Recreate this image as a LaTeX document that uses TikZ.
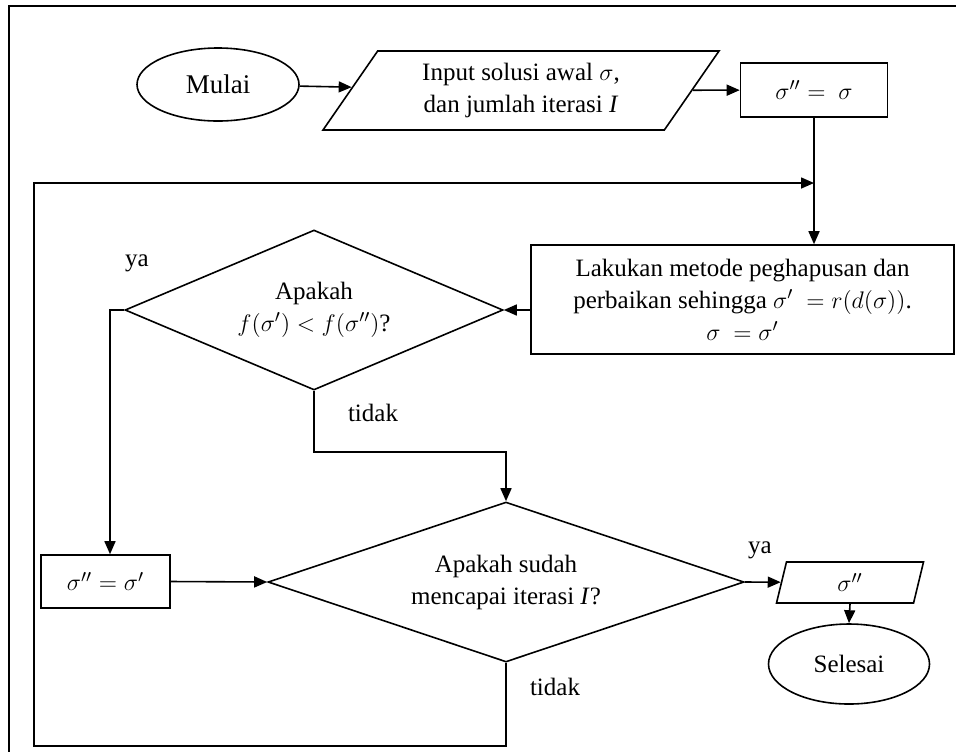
\documentclass[tikz,border=0pt]{standalone}
\usepackage{fontspec}
\setmainfont{Liberation Serif}
\usetikzlibrary{shapes.geometric,arrows.meta}
\begin{document}
\begin{tikzpicture}[x=0.5pt,y=-0.5pt,
  every node/.style={font=\fontsize{12.5}{16}\selectfont},
  line/.style={line width=0.8pt},
  arr/.style={line, -{Triangle[length=6.5pt,width=5.5pt]}},
  term/.style={ellipse, draw, line width=0.8pt, inner sep=0pt},
  proc/.style={rectangle, draw, line width=0.8pt, inner sep=0pt, align=center},
  io/.style={trapezium, trapezium stretches body, draw, line width=0.8pt, inner sep=0pt, align=center},
  decide/.style={diamond, draw, line width=0.8pt, inner sep=0pt, align=center},
  lbl/.style={inner sep=0pt}]
\useasboundingbox (0,0) rectangle (956,751);
% page frame
\draw[line] (9,770) -- (9,6) -- (970,6);

% nodes
\node[term, minimum width=81pt, minimum height=36.5pt] (mulai) at (218,84.5) {\fontsize{13.5}{16}\selectfont Mulai};
\node[io, trapezium left angle=45, trapezium right angle=135, minimum width=198pt, minimum height=39.5pt] (input) at (521,90.5) {Input solusi awal $\sigma$,\\ dan jumlah iterasi \textit{I}};
\node[proc, minimum width=73.5pt, minimum height=27pt] (init) at (814,90) {$\sigma'' =\ \sigma$};
\node[proc, minimum width=211.5pt, minimum height=54.5pt] (perturb) at (742.5,299.5) {Lakukan metode peghapusan dan\\ perbaikan sehingga $\sigma'\ = r\big(d(\sigma)\big)$.\\ $\sigma\ = \sigma'$};
\node[decide, aspect=2.36, minimum width=189pt, minimum height=80pt] (cmp) at (314,310) {Apakah\\ $f(\sigma') < f(\sigma'')$?};
\node[decide, aspect=3, minimum width=238pt, minimum height=80pt] (stop) at (506,582) {Apakah sudah\\ mencapai iterasi \textit{I}?};
\node[proc, minimum width=64.5pt, minimum height=26.5pt] (accept) at (105.5,581.5) {$\sigma'' = \sigma'$};
\node[io, trapezium left angle=62, trapezium right angle=118, minimum width=73.5pt, minimum height=20.5pt] (out) at (850,582.5) {$\sigma''$};
\node[term, minimum width=80.5pt, minimum height=40pt] (end) at (849,664) {Selesai};

% branch labels
\node[lbl] (yes1) at (137,263) {ya};
\node[lbl] (no1) at (373,413) {tidak};
\node[lbl] (yes2) at (760,550) {ya};
\node[lbl] (no2) at (555,687) {tidak};

% helper points
\coordinate (join) at (814,183);
\coordinate (yesturn) at (110,310);
\coordinate (noturn) at (314,452);
\coordinate (loopbl) at (34,746);
\coordinate (looptl) at (34,183);

% connectors
\draw[arr] (mulai) -- (input);
\draw[arr] (input) -- (init);
\draw[arr] (init.south) -- (init.south |- perturb.north);
\draw[arr] (cmp.east -| perturb.west) -- (cmp.east);
\draw[arr] (cmp.west) -- (yesturn) -- (yesturn |- accept.north);
\draw[arr] (cmp.south) -- (noturn) -| (stop.north);
\draw[arr] (accept.east) -- (stop.west);
\draw[arr] (stop.east) -- (out);
\draw[arr] (out.south) -- (end.north);
\draw[arr] (stop.south) |- (loopbl) -- (looptl) -- (join);
\end{tikzpicture}
\end{document}
